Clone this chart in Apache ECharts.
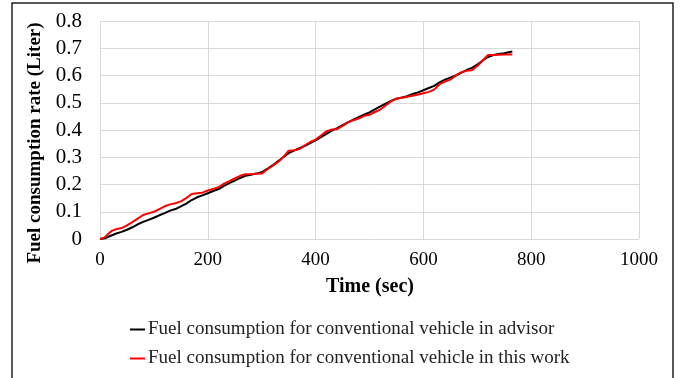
<!DOCTYPE html>
<html><head><meta charset="utf-8">
<script src="https://cdn.jsdelivr.net/npm/echarts@6/dist/echarts.min.js"></script>
<style>html,body{margin:0;padding:0;background:#fff}#c{width:681px;height:378px}</style>
</head><body><div id="c"></div>
<script>
var seriesNames = ['Fuel consumption for conventional vehicle in advisor','Fuel consumption for conventional vehicle in this work'];
var xTicks = [0,200,400,600,800,1000];
var yTicks = [0,0.1,0.2,0.3,0.4,0.5,0.6,0.7,0.8];
var timeAdvisor = [0,10,20,30,40,50,60,70,80,90,100,110,120,130,140,150,160,170,180,190,200,210,220,230,240,250,260,270,280,290,300,310,320,330,340,350,360,370,380,390,400,410,420,430,440,450,460,470,480,490,500,510,520,530,540,550,560,570,580,590,600,610,620,630,640,650,660,670,680,690,700,710,720,730,740,750,765];
var fuelAdvisor = [0,0.003,0.012,0.02,0.026,0.034,0.043,0.054,0.063,0.07,0.078,0.087,0.095,0.104,0.11,0.12,0.13,0.143,0.153,0.16,0.168,0.176,0.183,0.195,0.205,0.214,0.224,0.232,0.236,0.24,0.245,0.257,0.27,0.285,0.3,0.315,0.324,0.333,0.342,0.352,0.362,0.374,0.386,0.398,0.407,0.418,0.428,0.438,0.447,0.456,0.465,0.476,0.487,0.497,0.507,0.515,0.519,0.524,0.532,0.538,0.546,0.554,0.562,0.575,0.585,0.592,0.6,0.61,0.62,0.628,0.64,0.655,0.668,0.675,0.679,0.682,0.688];
var timeWork = [0,8,15,22,30,40,50,60,70,80,90,100,110,120,130,140,150,160,170,180,190,200,210,220,230,240,250,260,270,280,290,300,310,320,330,340,350,360,370,380,390,400,410,420,430,440,450,460,470,480,490,500,510,520,530,540,550,560,570,580,590,600,610,620,630,640,650,660,670,680,690,700,710,720,730,740,750,765];
var fuelWork = [0,0.005,0.018,0.03,0.036,0.04,0.05,0.062,0.075,0.088,0.094,0.1,0.11,0.12,0.127,0.131,0.138,0.15,0.165,0.168,0.17,0.178,0.184,0.19,0.203,0.212,0.222,0.232,0.238,0.238,0.239,0.24,0.255,0.268,0.282,0.3,0.324,0.326,0.33,0.344,0.356,0.365,0.38,0.395,0.402,0.403,0.415,0.428,0.436,0.442,0.452,0.456,0.466,0.475,0.49,0.505,0.515,0.518,0.522,0.526,0.53,0.535,0.54,0.548,0.568,0.578,0.585,0.6,0.612,0.617,0.619,0.635,0.655,0.675,0.675,0.676,0.677,0.677];

function pairs(xs, ys){ return xs.map(function(x,i){ return [x, ys[i]]; }); }
var serif = "'Liberation Serif','Times New Roman',serif";
var grid = '#d9d9d9';
var chart = echarts.init(document.getElementById('c'));
chart.setOption({
  animation:false,
  backgroundColor:'#fff',
  grid:{left:100,right:42,top:21,bottom:139,containLabel:false},
  xAxis:{type:'value',min:xTicks[0],max:xTicks[xTicks.length-1],interval:xTicks[1]-xTicks[0],
    axisLine:{lineStyle:{color:grid,width:1}},axisTick:{show:false},
    splitLine:{lineStyle:{color:grid,width:1}},
    axisLabel:{fontFamily:serif,fontSize:19,color:'#000',margin:12,formatter:function(v){return String(v);}}},
  yAxis:{type:'value',min:yTicks[0],max:yTicks[yTicks.length-1],interval:0.1,
    axisLine:{show:true,lineStyle:{color:grid,width:1}},axisTick:{show:false},
    splitLine:{lineStyle:{color:grid,width:1}},
    axisLabel:{fontFamily:serif,fontSize:21,color:'#000',margin:18,
      formatter:function(v){return String(Math.round(v*10)/10);}}},
  legend:{orient:'vertical',left:130,top:320,padding:0,itemWidth:15,itemHeight:2,itemGap:10,icon:'rect',
    textStyle:{fontFamily:serif,fontSize:19,color:'#222',padding:[0,0,0,-2]},
    data:[{name:seriesNames[0],itemStyle:{color:'#000'}},{name:seriesNames[1],itemStyle:{color:'#ff0000'}}]},
  graphic:[
    {type:'rect',shape:{x:12,y:3,width:661,height:380},style:{fill:'none',stroke:'#222',lineWidth:1.5},silent:true},
    {type:'text',x:35,y:143,rotation:Math.PI/2,style:{text:'Fuel consumption rate (Liter)',font:'bold 19px '+serif,fill:'#000',align:'center',verticalAlign:'middle'}},
    {type:'text',x:370,y:287,style:{text:'Time (sec)',font:'bold 20px '+serif,fill:'#000',align:'center',verticalAlign:'middle'}}
  ],
  series:[
    {name:seriesNames[0],type:'line',showSymbol:false,data:pairs(timeAdvisor,fuelAdvisor),lineStyle:{color:'#000',width:2},itemStyle:{color:'#000'}},
    {name:seriesNames[1],type:'line',showSymbol:false,data:pairs(timeWork,fuelWork),lineStyle:{color:'#ff0000',width:2},itemStyle:{color:'#ff0000'}}
  ]
});
</script></body></html>
